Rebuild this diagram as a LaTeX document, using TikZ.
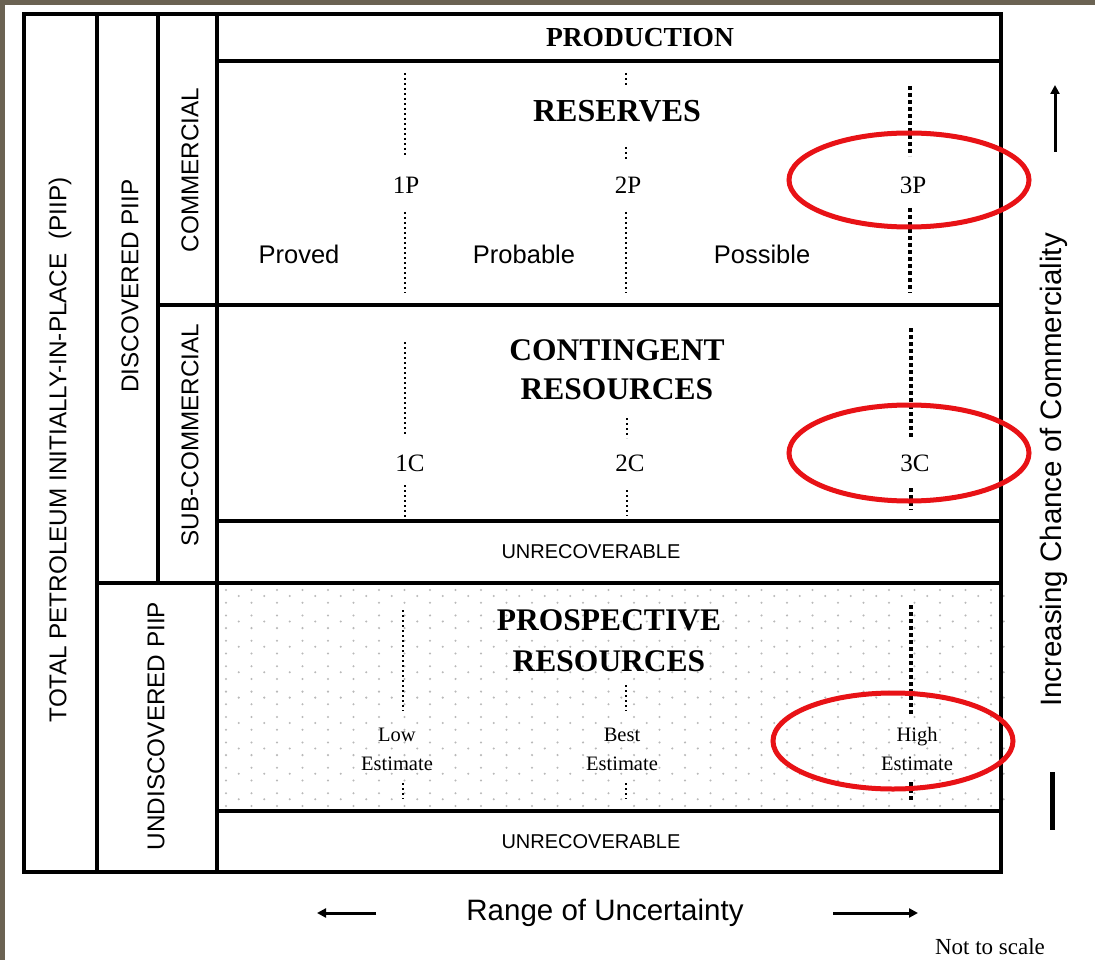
\documentclass[tikz,border=0pt]{standalone}
\usepackage{fontspec}
\setmainfont{Liberation Serif}
\setsansfont{Liberation Sans}
\usetikzlibrary{arrows.meta}
\definecolor{brownframe}{RGB}{107,99,83}
\definecolor{ringred}{RGB}{232,18,22}
\begin{document}
\begin{tikzpicture}[x=1pt,y=-1pt,
  frame/.style={draw=black,line width=4.5pt},
  smalldots/.style={line width=2.2pt,dash pattern=on 2pt off 3pt},
  bigdots/.style={line width=4.5pt,dash pattern=on 4pt off 3pt},
  ring/.style={draw=ringred,line width=5pt},
  sidelab/.style={font=\sffamily\fontsize{24.3}{28}\selectfont,rotate=90,inner sep=0pt},
  title/.style={font=\bfseries\fontsize{31.5}{40}\selectfont,align=center,inner sep=0pt},
  pnum/.style={font=\fontsize{25}{30}\selectfont,inner sep=0pt},
  catlab/.style={font=\sffamily\fontsize{25.5}{30}\selectfont,inner sep=0pt},
  unrec/.style={font=\sffamily\fontsize{20}{24}\selectfont,inner sep=0pt},
  estlab/.style={font=\fontsize{20.5}{29}\selectfont,align=center,inner sep=0pt},
  axislab/.style={font=\sffamily\fontsize{29.5}{34}\selectfont,inner sep=0pt},
  arr/.style={line width=3pt,-{Triangle[length=9pt,width=9pt]}}
]
\useasboundingbox (0,0) rectangle (1095,960);
\fill[white] (0,0) rectangle (1095,960);
\fill[brownframe] (0,0) rectangle (1095,5);
\fill[brownframe] (0,0) rectangle (5,960);

% dotted background of prospective resources
\foreach \j in {0,...,17}{
  \pgfmathsetmacro\yy{590+12.7*\j}
  \foreach \i in {0,...,30}{
    \fill[gray!55] (226+25.5*\i,\yy) circle (1.15pt);
  }
}
\foreach \j in {0,...,8}{
  \pgfmathsetmacro\yy{596+25.4*\j}
  \foreach \i in {0,...,30}{
    \fill[gray!55] (238.75+25.5*\i,\yy) circle (1.15pt);
  }
}

% grid
\draw[frame] (24,14) rectangle (1001,872);
\draw[frame] (97,14) -- (97,872);
\draw[frame] (158,14) -- (158,583);
\draw[frame] (217,14) -- (217,872);
\draw[frame] (217,61) -- (1001,61);
\draw[frame] (158,305) -- (1001,305);
\draw[frame] (217,521) -- (1001,521);
\draw[frame] (97,583) -- (1001,583);
\draw[frame] (217,811) -- (1001,811);

% side labels
\node[sidelab] (piip) at (60,450) {TOTAL PETROLEUM INITIALLY-IN-PLACE\ \ (PIIP)};
\node[sidelab] (disc) at (130,286) {DISCOVERED PIIP};
\node[sidelab] (comm) at (190,170) {COMMERCIAL};
\node[sidelab] (subc) at (190,435) {SUB-COMMERCIAL};
\node[sidelab] (undisc) at (156,726) {UNDISCOVERED PIIP};

% titles
\node[font=\bfseries\fontsize{27.5}{32}\selectfont,inner sep=0pt] (prod) at (640,38) {PRODUCTION};
\node[title,font=\bfseries\fontsize{32}{40}\selectfont] (res) at (617,111) {RESERVES};
\node[title,text depth=0pt] (cont) at (617,370) {CONTINGENT\\[-1pt]RESOURCES};
\node[title] (prosp) at (609,641) {PROSPECTIVE\\[1pt]RESOURCES};

% reserves
\node[pnum] (p1) at (406,185) {1P};
\node[pnum] (p2) at (628,185) {2P};
\node[pnum] (p3) at (913,185) {3P};
\node[catlab] (proved) at (299,254) {Proved};
\node[catlab] (probable) at (524,254) {Probable};
\node[catlab] (possible) at (762,254) {Possible};

% contingent
\node[pnum] (c1) at (410,463) {1C};
\node[pnum] (c2) at (630,463) {2C};
\node[pnum] (c3) at (915,463) {3C};
\node[unrec] (unrec1) at (591,552) {UNRECOVERABLE};
\node[unrec] (unrec2) at (591,842) {UNRECOVERABLE};

% prospective
\node[estlab] (low) at (397,749) {Low\\Estimate};
\node[estlab] (best) at (622,749) {Best\\Estimate};
\node[estlab] (high) at (917,749) {High\\Estimate};

% dotted separators
\draw[smalldots] (405,73) -- (405,157);
\draw[smalldots] (405,212) -- (405,293);
\draw[smalldots] (626,73) -- (626,86);
\draw[smalldots] (626,147) -- (626,159);
\draw[smalldots] (626,212) -- (626,293);
\draw[bigdots] (910,86) -- (910,156);
\draw[bigdots] (910,208) -- (910,293);

\draw[smalldots] (405,342) -- (405,434);
\draw[smalldots] (405,485) -- (405,518);
\draw[smalldots] (627,418) -- (627,438);
\draw[smalldots] (627,490) -- (627,516);
\draw[bigdots] (911,328) -- (911,438);
\draw[bigdots] (911,488) -- (911,510);

\draw[smalldots] (403,610) -- (403,711);
\draw[smalldots] (403,783) -- (403,799);
\draw[smalldots] (626,685) -- (626,711);
\draw[smalldots] (626,783) -- (626,799);
\draw[bigdots] (911,605) -- (911,714);
\draw[bigdots] (911,782) -- (911,800);

% red rings
\draw[ring] (909,180) ellipse [x radius=120pt, y radius=47pt];
\draw[ring] (909,453) ellipse [x radius=120pt, y radius=48pt];
\draw[ring] (893,741) ellipse [x radius=120pt, y radius=48pt];

% axes
\node[axislab,rotate=90] (chance) at (1054,470) {Increasing Chance of Commerciality};
\coordinate (upfrom) at (1055,152);
\coordinate (upto) at (1055,85);
\draw[arr] (upfrom) -- (upto);
\coordinate (barA) at (1052,772);
\coordinate (barB) at (1052,830);
\draw[line width=5pt] (barA) -- (barB);

\node[axislab] (range) at (605,913) {Range of Uncertainty};
\coordinate (lfrom) at (376,913);
\coordinate (lto) at (317,913);
\coordinate (rfrom) at (833,913);
\coordinate (rto) at (918,913);
\draw[arr] (lfrom) -- (lto);
\draw[arr] (rfrom) -- (rto);

\node[font=\fontsize{23}{27}\selectfont,inner sep=0pt] (scale) at (990,947) {Not to scale};
\end{tikzpicture}
\end{document}
